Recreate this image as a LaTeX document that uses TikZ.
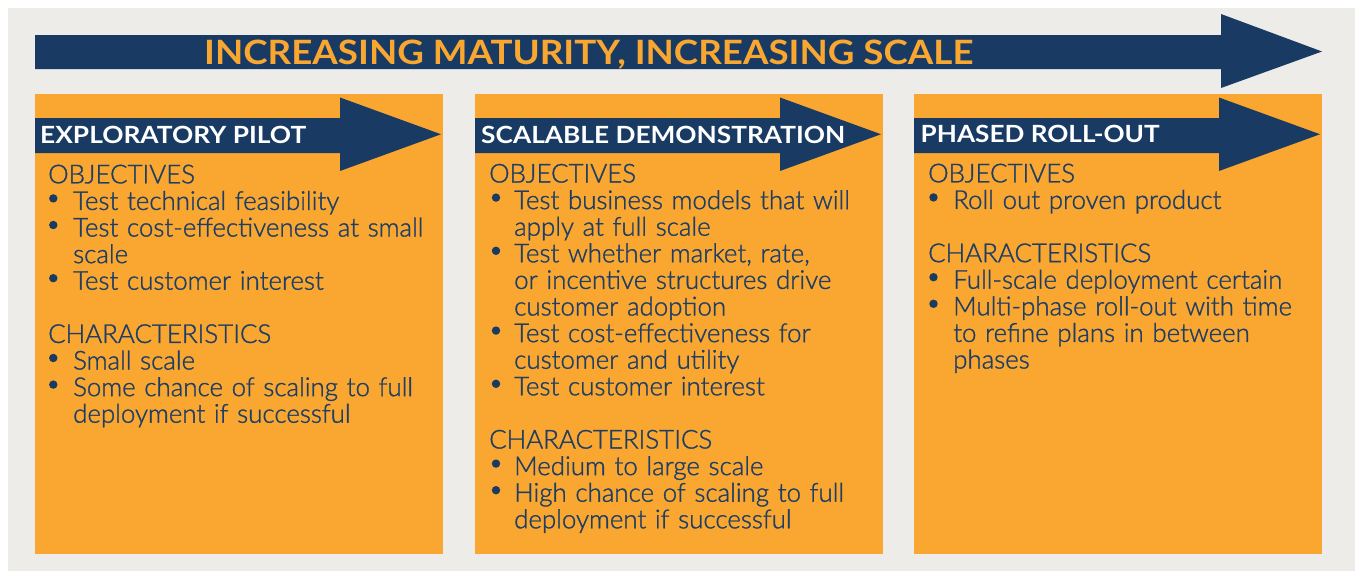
\documentclass[tikz,border=0pt]{standalone}
\usepackage{fontspec}
\usepackage{graphicx}
\IfFontExistsTF{Lato Light}{\newfontfamily\bodyfont{Lato Light}[FakeStretch=0.995,FakeBold=1.2]}{\newfontfamily\bodyfont{Lato}[FakeStretch=0.98]}
\newfontfamily\latofam{Lato}
\newcommand{\headfont}{\latofam\bfseries}
\definecolor{navy}{RGB}{24,58,99}
\definecolor{orangebox}{RGB}{249,167,48}
\definecolor{bggray}{RGB}{237,236,232}
\definecolor{textnavy}{RGB}{30,62,102}
\newcommand{\ind}{\hspace*{25pt}}
\newcommand{\bul}{\ind}
\tikzset{
  phasebox/.style={fill=orangebox, draw=none, inner sep=0pt, anchor=north west, minimum width=408pt, minimum height=459.5pt},
  headtext/.style={text=white, inner sep=0pt, anchor=base west, font=\headfont},
  bodytext/.style={text=textnavy, inner sep=0pt, anchor=base west, text width=400pt, align=left, font=\bodyfont\fontsize{26}{26.6}\selectfont},
  bigarrow/.style={fill=navy, draw=none},
  bulletdot/.style={fill=navy}
}
\begin{document}
\begin{tikzpicture}[x=1pt,y=-1pt]
\useasboundingbox (0,0) rectangle (1355,571);
\fill[white] (0,0) rectangle (1355,571);
\fill[bggray] (8,8) rectangle (1355,571);
% main arrow
\fill[bigarrow] (35,35) -- (1221,35) -- (1221,14) -- (1322,51.5) -- (1221,88) -- (1221,69) -- (35,69) -- cycle;
\node[text=orangebox, inner sep=0pt, anchor=base west, font=\headfont] (title) at (204,64)
  {\resizebox{769pt}{24.5pt}{INCREASING MATURITY, INCREASING SCALE}};
% boxes
\node[phasebox] (b1) at (35,94) {};
\node[phasebox] (b2) at (475,94) {};
\node[phasebox] (b3) at (914,94) {};
% box arrows
\fill[bigarrow] (35,118) -- (340,118) -- (340,97.5) -- (441,134.25) -- (340,171) -- (340,153) -- (35,153) -- cycle;
\fill[bigarrow] (475,118) -- (780,118) -- (780,97.5) -- (881,134.25) -- (780,171) -- (780,153) -- (475,153) -- cycle;
\fill[bigarrow] (914,118) -- (1219,118) -- (1219,97.5) -- (1320,134.25) -- (1219,171) -- (1219,153) -- (914,153) -- cycle;
% headers
\node[headtext] (h1) at (40,143.3) {\resizebox{266pt}{17.3pt}{EXPLORATORY PILOT}};
\node[headtext] (h2) at (481,143.5) {\resizebox{364pt}{17.3pt}{SCALABLE DEMONSTRATION}};
\node[headtext] (h3) at (920.5,142.5) {\resizebox{239pt}{17.3pt}{PHASED ROLL-OUT}};
% bodies
\node[bodytext] (t1) at (48,183.3) {OBJECTIVES\\
\bul Test technical feasibility\\
\bul Test cost-effectiveness at small\\
\ind scale\\
\bul Test customer interest\\[26.6pt]
CHARACTERISTICS\\
\bul Small scale\\
\bul Some chance of scaling to full\\
\ind deployment if successful};
\node[bodytext] (t2) at (489,182.5) {OBJECTIVES\\
\bul Test business models that will\\
\ind apply at full scale\\
\bul Test whether market, rate,\\
\ind or incentive structures drive\\
\ind customer adoption\\
\bul Test cost-effectiveness for\\
\ind customer and utility\\
\bul Test customer interest\\[26.6pt]
CHARACTERISTICS\\
\bul Medium to large scale\\
\bul High chance of scaling to full\\
\ind deployment if successful};
\node[bodytext] (t3) at (928,182.3) {OBJECTIVES\\
\bul Roll out proven product\\[26.6pt]
CHARACTERISTICS\\
\bul Full-scale deployment certain\\
\bul Multi-phase roll-out with time\\
\ind to refine plans in between\\
\ind phases};
% bullets
\foreach \k in {1,2,4,7,8} \fill[bulletdot] (53.3,183.3+26.6*\k-11.5) circle (4.2);
\foreach \k in {1,3,6,8,11,12} \fill[bulletdot] (496,182.5+26.6*\k-11.5) circle (4.2);
\foreach \k in {1,4,5} \fill[bulletdot] (933.5,182.3+26.6*\k-11.5) circle (4.2);
\end{tikzpicture}
\end{document}
